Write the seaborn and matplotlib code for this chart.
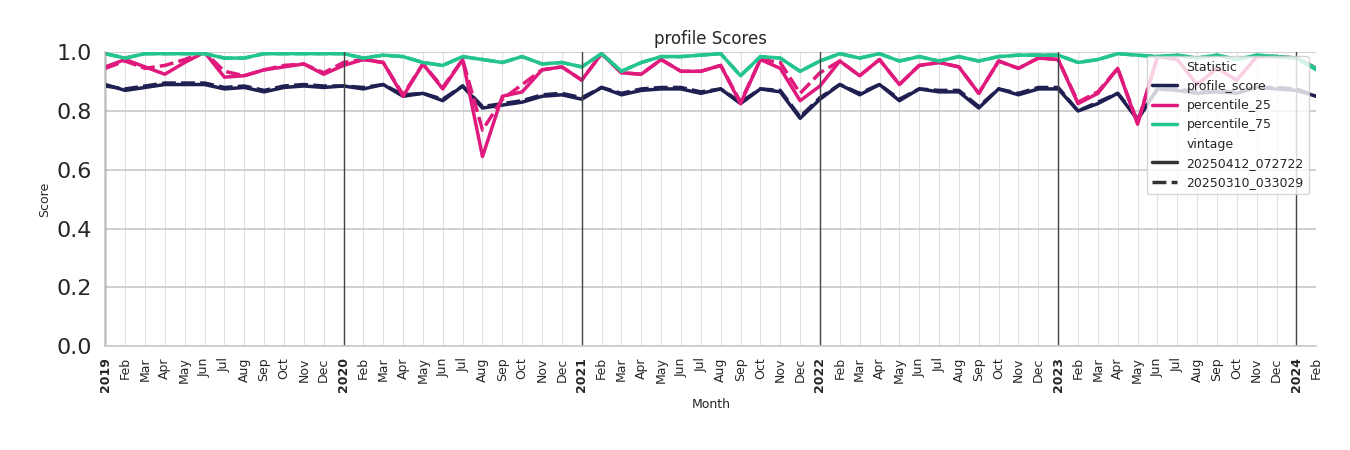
import pandas as pd
import seaborn as sns
import matplotlib.pyplot as plt

# Monthly values, Jan 2019 .. Feb 2024
months = pd.date_range("2019-01-01", "2024-02-01", freq="MS")

profile_new = [0.89, 0.87, 0.88, 0.89, 0.89, 0.89, 0.875, 0.88, 0.865, 0.88, 0.885, 0.88,
               0.885, 0.875, 0.89, 0.85, 0.86, 0.835, 0.885, 0.81, 0.82, 0.83, 0.85, 0.855,
               0.84, 0.88, 0.855, 0.87, 0.875, 0.875, 0.86, 0.875, 0.825, 0.875, 0.865, 0.775,
               0.84, 0.89, 0.855, 0.89, 0.835, 0.875, 0.865, 0.865, 0.81, 0.875, 0.855, 0.875,
               0.875, 0.80, 0.825, 0.86, 0.77, 0.875, 0.87, 0.86, 0.865, 0.86, 0.88, 0.875,
               0.87, 0.85]
profile_old = [0.885, 0.875, 0.885, 0.895, 0.895, 0.895, 0.88, 0.885, 0.87, 0.885, 0.89, 0.885,
               0.885, 0.88, 0.89, 0.855, 0.86, 0.84, 0.885, 0.815, 0.825, 0.835, 0.855, 0.86,
               0.845, 0.88, 0.86, 0.875, 0.88, 0.88, 0.865, 0.875, 0.83, 0.875, 0.87, 0.78,
               0.845, 0.89, 0.86, 0.89, 0.84, 0.875, 0.87, 0.87, 0.815, 0.875, 0.86, 0.88,
               0.88, 0.80, 0.83, 0.86, 0.775, 0.875, 0.875, 0.865, 0.87, 0.865, 0.88, 0.88,
               0.875, 0.85]
p25_new = [0.95, 0.975, 0.95, 0.925, 0.965, 1.0, 0.915, 0.92, 0.94, 0.95, 0.96, 0.925,
           0.955, 0.975, 0.965, 0.85, 0.96, 0.875, 0.975, 0.645, 0.85, 0.865, 0.94, 0.95,
           0.905, 0.995, 0.93, 0.925, 0.975, 0.935, 0.935, 0.955, 0.825, 0.975, 0.945, 0.835,
           0.885, 0.97, 0.92, 0.975, 0.89, 0.955, 0.965, 0.95, 0.86, 0.97, 0.945, 0.98,
           0.975, 0.825, 0.86, 0.945, 0.755, 0.985, 0.975, 0.89, 0.945, 0.905, 0.985, 0.985,
           0.98, 0.945]
p25_old = [0.945, 0.97, 0.945, 0.955, 0.975, 1.0, 0.935, 0.92, 0.94, 0.955, 0.96, 0.93,
           0.965, 0.975, 0.965, 0.855, 0.96, 0.88, 0.975, 0.735, 0.84, 0.89, 0.94, 0.95,
           0.905, 0.995, 0.93, 0.925, 0.975, 0.935, 0.935, 0.955, 0.83, 0.975, 0.965, 0.86,
           0.93, 0.97, 0.92, 0.975, 0.89, 0.955, 0.965, 0.95, 0.86, 0.97, 0.945, 0.98,
           0.975, 0.83, 0.865, 0.945, 0.76, 0.985, 0.975, 0.89, 0.945, 0.905, 0.985, 0.985,
           0.98, 0.945]
p75_new = [0.995, 0.98, 0.995, 0.995, 0.995, 0.995, 0.98, 0.98, 0.995, 0.995, 0.995, 0.995,
           0.995, 0.98, 0.99, 0.985, 0.965, 0.955, 0.985, 0.975, 0.965, 0.985, 0.96, 0.965,
           0.95, 0.995, 0.935, 0.965, 0.985, 0.985, 0.99, 0.995, 0.92, 0.985, 0.98, 0.935,
           0.97, 0.995, 0.98, 0.995, 0.97, 0.985, 0.97, 0.985, 0.97, 0.985, 0.99, 0.99,
           0.99, 0.965, 0.975, 0.995, 0.99, 0.985, 0.99, 0.98, 0.99, 0.975, 0.99, 0.985,
           0.98, 0.94]
p75_old = [0.995, 0.98, 0.995, 0.995, 0.995, 0.995, 0.98, 0.98, 0.995, 0.995, 0.995, 0.995,
           0.995, 0.98, 0.99, 0.985, 0.965, 0.955, 0.985, 0.975, 0.965, 0.985, 0.96, 0.965,
           0.95, 0.995, 0.935, 0.965, 0.985, 0.985, 0.99, 0.995, 0.92, 0.985, 0.98, 0.935,
           0.97, 0.995, 0.98, 0.995, 0.97, 0.985, 0.97, 0.985, 0.97, 0.985, 0.99, 0.99,
           0.99, 0.965, 0.975, 0.995, 0.99, 0.985, 0.99, 0.98, 0.99, 0.975, 0.99, 0.985,
           0.98, 0.945]

vintages = ["20250412_072722", "20250310_033029"]
statistics = ["profile_score", "percentile_25", "percentile_75"]

rows = []
series = {
    (vintages[0], "profile_score"): profile_new, (vintages[1], "profile_score"): profile_old,
    (vintages[0], "percentile_25"): p25_new, (vintages[1], "percentile_25"): p25_old,
    (vintages[0], "percentile_75"): p75_new, (vintages[1], "percentile_75"): p75_old,
}
for (vin, stat), vals in series.items():
    for i, v in enumerate(vals):
        rows.append({"idx": i, "Score": v, "Statistic": stat, "vintage": vin})
df = pd.DataFrame(rows)

sns.set_theme(style="whitegrid")
fig, ax = plt.subplots(figsize=(13.5, 4.5), dpi=100)
fig.subplots_adjust(left=0.078, right=0.975, top=0.884, bottom=0.231)

sns.lineplot(data=df, x="idx", y="Score", hue="Statistic", style="vintage",
             hue_order=statistics, style_order=vintages,
             palette=["#1f1f52", "#e0197d", "#24c48e"], linewidth=2.5, ax=ax)

ax.set_xlim(0, len(months) - 1)
ax.set_ylim(0, 1.0)
ax.set_xticks(range(len(months)))
labels = [str(m.year) if m.month == 1 else m.strftime("%b") for m in months]
ax.set_xticklabels(labels, rotation=90, fontsize=9)
for t, m in zip(ax.get_xticklabels(), months):
    if m.month == 1:
        t.set_fontweight("bold")
ax.tick_params(axis="y", labelsize=16)
ax.tick_params(axis="x", pad=2)
ax.grid(axis="x", color="#e0e0e0", linewidth=0.8)
ax.grid(axis="y", color="#c8c8c8", linewidth=1.2)
for i, m in enumerate(months):
    if m.month == 1:
        ax.axvline(i, color="#444444", linewidth=1)
for s in ["top", "right"]:
    ax.spines[s].set_visible(False)

ax.set_title("profile Scores", fontsize=12)
ax.set_xlabel("Month", fontsize=9)
ax.set_ylabel("Score", fontsize=9)
ax.legend(loc="upper right", bbox_to_anchor=(0.999, 1.01), fontsize=9, framealpha=0.8)

plt.savefig("out.png")
